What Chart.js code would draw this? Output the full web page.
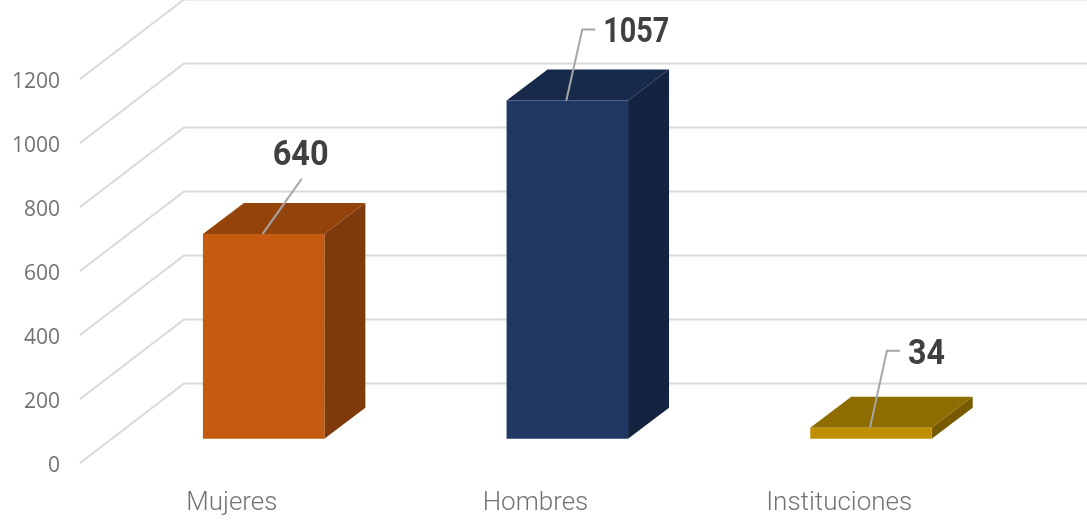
<!DOCTYPE html>
<html lang="es">
<head>
  <meta charset="UTF-8">
  <title>Mujeres, Hombres, Instituciones</title>
  <script src="https://cdn.jsdelivr.net/npm/chart.js"></script>
  <style>
    body { margin: 0; background: #fff; overflow: hidden; }
    canvas { display: block; }
  </style>
</head>
<body>
  <canvas id="chart3d" width="1087" height="521"></canvas>

  <script>
    const categories = ['Mujeres', 'Hombres', 'Instituciones'];
    const values = [640, 1057, 34];
    const yTicks = [0, 200, 400, 600, 800, 1000, 1200];

    const frontColors = ['#C55A11', '#1F3864', '#BF8F00'];
    const topColors = ['#94440B', '#172A4B', '#8F6C00'];
    const sideColors = ['#7F3A0B', '#14233F', '#775A00'];

    // profundidad del piso del grafico y de cada barra
    const floorDx = 104, floorDy = -79.5;
    const barShiftX = 31.8, barShiftY = -24.3;
    const depthX = 41, depthY = -31;

    // guias de las etiquetas, relativas al tope de la barra; fit = ancho del texto condensado
    const leaders = [
      { pts: [[39, -55]], labelDx: 10, labelDy: -78, fit: 56 },
      { pts: [[16, -71], [29, -71]], labelDx: 37, labelDy: -67, fit: 66 },
      { pts: [[17, -77], [30, -77]], labelDx: 38, labelDy: -73, fit: 37 }
    ];

    const grid3d = {
      id: 'grid3d',
      beforeDraw(chart) {
        // las etiquetas del eje y van un poco mas abajo que la linea
        chart.scales.y.getLabelItems(chart.chartArea).forEach(item => {
          item.options.translation[1] += 3;
        });
      },
      beforeDatasetsDraw(chart) {
        const { ctx, chartArea } = chart;
        const y = chart.scales.y;
        // paredes
        ctx.save();
        ctx.strokeStyle = '#D9D9D9';
        ctx.lineWidth = 2;
        yTicks.forEach(t => {
          const py = y.getPixelForValue(t);
          ctx.beginPath();
          ctx.moveTo(chartArea.left, py);
          ctx.lineTo(chartArea.left + floorDx, py + floorDy);
          ctx.lineTo(chartArea.right + floorDx, py + floorDy);
          ctx.stroke();
        });
        ctx.restore();

        // caras de cada barra
        ctx.save();
        ctx.translate(barShiftX, barShiftY);
        chart.getDatasetMeta(0).data.forEach((bar, i) => {
          const l = bar.x - bar.width / 2, r = bar.x + bar.width / 2;
          const t = bar.y, b = bar.base;
          ctx.fillStyle = topColors[i];
          ctx.beginPath();
          ctx.moveTo(l, t);
          ctx.lineTo(l + depthX, t + depthY);
          ctx.lineTo(r + depthX, t + depthY);
          ctx.lineTo(r, t);
          ctx.closePath();
          ctx.fill();
          ctx.fillStyle = sideColors[i];
          ctx.beginPath();
          ctx.moveTo(r, t);
          ctx.lineTo(r + depthX, t + depthY);
          ctx.lineTo(r + depthX, b + depthY);
          ctx.lineTo(r, b);
          ctx.closePath();
          ctx.fill();
        });
        // la cara frontal la dibuja Chart.js con este mismo corrimiento
      },
      afterDatasetsDraw(chart) {
        const { ctx } = chart;
        ctx.restore();

        ctx.save();
        chart.getDatasetMeta(0).data.forEach((bar, i) => {
          const sx = bar.x + barShiftX - 1, sy = bar.y + barShiftY;
          const lead = leaders[i];
          ctx.strokeStyle = '#A6A6A6';
          ctx.lineWidth = 2;
          ctx.beginPath();
          ctx.moveTo(sx, sy);
          lead.pts.forEach(p => ctx.lineTo(sx + p[0], sy + p[1]));
          ctx.stroke();

          ctx.fillStyle = '#404040';
          ctx.font = 'bold 35px Roboto';
          ctx.textBaseline = 'middle';
          ctx.textAlign = 'left';
          ctx.fillText(String(values[i]), sx + lead.labelDx, sy + lead.labelDy, lead.fit);
        });
        ctx.restore();
      }
    };

    new Chart(document.getElementById('chart3d'), {
      type: 'bar',
      data: {
        labels: categories,
        datasets: [{
          data: values,
          backgroundColor: frontColors,
          borderWidth: 0,
          barPercentage: 0.4,
          categoryPercentage: 1,
          clip: false
        }]
      },
      options: {
        responsive: false,
        animation: false,
        layout: { padding: { top: 79, right: 96, left: 0, bottom: 0 } },
        plugins: {
          legend: { display: false },
          title: { display: false },
          tooltip: { enabled: false }
        },
        scales: {
          x: {
            grid: { display: false, drawTicks: false },
            border: { display: false },
            ticks: { color: '#767171', padding: 25, maxRotation: 0, font: { family: 'Roboto', size: 26, weight: '300' } },
            afterFit(scale) { scale.height = 58; }
          },
          y: {
            min: 0,
            max: 1200,
            grid: { display: false, drawTicks: false },
            border: { display: false },
            afterBuildTicks(scale) { scale.ticks = yTicks.map(v => ({ value: v })); },
            ticks: { color: '#767171', padding: 20, font: { family: '"Open Sans"', size: 21 }, callback: v => String(v) },
            afterFit(scale) { scale.width = 80; }
          }
        }
      },
      plugins: [grid3d]
    });
  </script>
</body>
</html>
